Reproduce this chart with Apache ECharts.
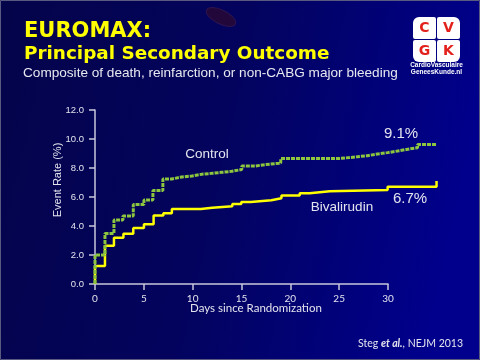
<!DOCTYPE html>
<html><head><meta charset="utf-8">
<script src="https://cdn.jsdelivr.net/npm/echarts@6/dist/echarts.min.js"></script>
<style>html,body{margin:0;padding:0;background:#000050;}#c{width:480px;height:360px;}</style>
</head><body><div id="c"></div>
<script>
// Kaplan-Meier style step data: [day, event rate %]
var controlDays = [0, 0, 1.02, 1.94, 2.86, 3.92, 5.01, 5.93, 6.95, 7.87, 8.69, 9.92, 10.94, 11.96, 12.99, 14.01, 15.03, 16.46, 17.48, 19.02, 25.05, 26.07, 26.89, 27.91, 28.94, 29.96, 30.98, 31.90, 33.03, 34.97];
var controlRate = [0, 2.0, 3.48, 4.41, 4.69, 5.48, 5.79, 6.45, 7.24, 7.36, 7.45, 7.57, 7.63, 7.70, 7.77, 7.90, 8.14, 8.24, 8.34, 8.66, 8.72, 8.78, 8.85, 8.97, 9.06, 9.17, 9.28, 9.40, 9.62, 9.62];
var bivalDays = [0, 0, 1.02, 1.94, 2.91, 3.92, 5.01, 6.0, 7.0, 7.87, 10.84, 12.01, 14.06, 14.98, 15.95, 18.05, 19.09, 20.96, 21.98, 24.03, 29.96, 34.97, 34.97];
var bivalRate = [0, 1.24, 2.64, 3.19, 3.47, 3.86, 4.12, 4.72, 4.88, 5.17, 5.26, 5.36, 5.52, 5.66, 5.78, 5.91, 6.10, 6.26, 6.39, 6.48, 6.71, 6.71, 7.1];
var xTicks = [0, 5, 10, 15, 20, 25, 30];
var yTicks = [0, 2, 4, 6, 8, 10, 12];
var dataMaxDay = 35; // follow-up plotted beyond the labelled 30 days

function pairs(xs, ys){ return xs.map(function(x,i){ return [x, ys[i]]; }); }

var chart = echarts.init(document.getElementById('c'), null, {renderer:'canvas'});
var axisCol = '#C8C8DC';
var txtCol = '#E4E4EE';
var xMax = xTicks[xTicks.length-1];
// plot grid width scaled so that day 30 falls at the end of the visible axis
var gLeft = 95, axisRight = 388;
var dataRight = gLeft + (axisRight - gLeft) * dataMaxDay / xMax;
chart.setOption({
  animation: false,
  backgroundColor: {
    type: 'linear', x: 0, y: 0, x2: 1, y2: 0.3,
    colorStops: [{offset: 0, color: '#04044a'}, {offset: 0.5, color: '#03035e'}, {offset: 1, color: '#00008c'}]
  },
  grid: [
    {left: gLeft, top: 110, width: axisRight - gLeft, bottom: 76, containLabel: false},
    {left: gLeft, top: 110, width: dataRight - gLeft, bottom: 76, containLabel: false}
  ],
  xAxis: [{
    gridIndex: 0, type: 'value', min: xTicks[0], max: xMax, interval: 5,
    axisLine: {lineStyle: {color: axisCol, width: 1.5}},
    axisTick: {show: true, length: 6, lineStyle: {color: axisCol, width: 1.5}},
    splitLine: {show: false},
    axisLabel: {color: txtCol, fontFamily: 'Lato', fontSize: 10, margin: 10}
  }, {
    gridIndex: 1, type: 'value', min: 0, max: dataMaxDay, show: false, splitLine: {show: false}
  }],
  yAxis: [{
    gridIndex: 0, type: 'value', min: yTicks[0], max: yTicks[yTicks.length-1], interval: 2,
    axisLine: {show: true, lineStyle: {color: axisCol, width: 1.5}},
    axisTick: {show: true, length: 6, lineStyle: {color: axisCol, width: 1.5}},
    splitLine: {show: false},
    axisLabel: {color: txtCol, fontFamily: 'Liberation Sans', fontSize: 9.5, margin: 11,
      formatter: function(v){ return v.toFixed(1); }}
  }, {
    gridIndex: 1, type: 'value', min: yTicks[0], max: yTicks[yTicks.length-1], show: false, splitLine: {show: false}
  }],
  series: [
    {type: 'line', name: 'Bivalirudin', xAxisIndex: 1, yAxisIndex: 1, step: 'end', showSymbol: false, symbol: 'none',
     data: pairs(bivalDays, bivalRate), lineStyle: {color: '#FFFF00', width: 2.5}, z: 3},
    {type: 'line', name: 'Control', xAxisIndex: 1, yAxisIndex: 1, step: 'end', showSymbol: false, symbol: 'none',
     data: pairs(controlDays, controlRate), lineStyle: {color: '#8CC63F', width: 3, type: [4, 1]}, z: 4}
  ],
  graphic: [
    {type: 'ellipse', shape: {cx: 0, cy: 0, rx: 16, ry: 7}, x: 221, y: 17, rotation: -0.45,
     style: {fill: '#22083a', stroke: '#2e1450', lineWidth: 1}},
    {type: 'text', left: 24, top: 21, style: {text: 'EUROMAX:', fill: '#FFFF00', font: 'bold 21px "DejaVu Sans"'}},
    {type: 'text', left: 24, top: 45, style: {text: 'Principal Secondary Outcome', fill: '#FFFF00', font: 'bold 18.4px "DejaVu Sans"'}},
    {type: 'text', left: 23, top: 66, style: {text: 'Composite of death, reinfarction, or non-CABG major bleeding', fill: '#E8E8F0', font: '13.6px "Liberation Sans"'}},
    // logo
    {type: 'rect', shape: {x: 413, y: 17, width: 23, height: 22, r: [6, 2, 2, 2]}, style: {fill: '#FFFFFF'}},
    {type: 'rect', shape: {x: 437, y: 17, width: 23, height: 22, r: [2, 6, 2, 2]}, style: {fill: '#FFFFFF'}},
    {type: 'rect', shape: {x: 413, y: 40, width: 23, height: 22, r: [2, 2, 2, 6]}, style: {fill: '#FFFFFF'}},
    {type: 'rect', shape: {x: 437, y: 40, width: 23, height: 22, r: [2, 2, 6, 2]}, style: {fill: '#FFFFFF'}},
    {type: 'text', x: 424.5, y: 28, style: {text: 'C', fill: '#E3201B', font: 'bold 14px "DejaVu Sans"', align: 'center', verticalAlign: 'middle'}},
    {type: 'text', x: 448.5, y: 28, style: {text: 'V', fill: '#E3201B', font: 'bold 14px "DejaVu Sans"', align: 'center', verticalAlign: 'middle'}},
    {type: 'text', x: 424.5, y: 51, style: {text: 'G', fill: '#E3201B', font: 'bold 14px "DejaVu Sans"', align: 'center', verticalAlign: 'middle'}},
    {type: 'text', x: 448.5, y: 51, style: {text: 'K', fill: '#E3201B', font: 'bold 14px "DejaVu Sans"', align: 'center', verticalAlign: 'middle'}},
    {type: 'text', x: 436.5, y: 65.5, style: {text: 'CardioVasculaire', fill: '#FFFFFF', font: 'bold 6.5px "Liberation Sans"', align: 'center', verticalAlign: 'middle'}},
    {type: 'text', x: 436.5, y: 72.5, style: {text: 'GeneesKunde.nl', fill: '#FFFFFF', font: 'bold 6.5px "Liberation Sans"', align: 'center', verticalAlign: 'middle'}},
    // annotations
    {type: 'text', x: 57.5, y: 180, rotation: Math.PI/2, style: {text: 'Event Rate (%)', fill: txtCol, font: '11px "Liberation Sans"', align: 'center', verticalAlign: 'middle'}},
    {type: 'text', x: 256, y: 308, style: {text: 'Days since Randomization', fill: txtCol, font: '11.5px Lato', align: 'center', verticalAlign: 'middle'}},
    {type: 'text', x: 207, y: 154, style: {text: 'Control', fill: txtCol, font: '13.5px "Liberation Sans"', align: 'center', verticalAlign: 'middle'}},
    {type: 'text', x: 342, y: 207, style: {text: 'Bivalirudin', fill: txtCol, font: '13.5px "Liberation Sans"', align: 'center', verticalAlign: 'middle'}},
    {type: 'text', x: 401, y: 134, style: {text: '9.1%', fill: txtCol, font: '15px "Liberation Sans"', align: 'center', verticalAlign: 'middle'}},
    {type: 'text', x: 410, y: 199, style: {text: '6.7%', fill: txtCol, font: '15px "Liberation Sans"', align: 'center', verticalAlign: 'middle'}},
    {type: 'text', x: 463, y: 344, style: {
      text: '{n|Steg }{b|et al.}{n|, NEJM 2013}', align: 'right', verticalAlign: 'middle',
      rich: {n: {fill: txtCol, font: '10.5px Lato'}, b: {fill: txtCol, font: 'italic bold 10.5px Lato'}}}},
    {type: 'rect', shape: {x: 0.5, y: 0.5, width: 479, height: 359}, style: {fill: null, stroke: '#5a5a80', lineWidth: 1}}
  ]
});
</script></body></html>
